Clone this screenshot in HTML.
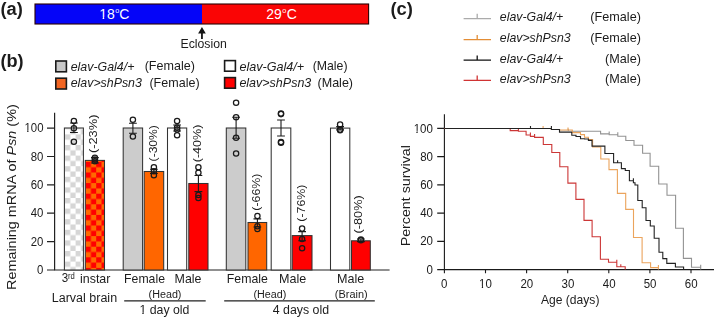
<!DOCTYPE html>
<html><head><meta charset="utf-8">
<style>
html,body{margin:0;padding:0;background:#fff;width:715px;height:317px;overflow:hidden}
svg{display:block;filter:blur(0.3px);font-family:"Liberation Sans",sans-serif}
text{fill:#1c1c1c}
.it{font-style:italic}
.b{font-weight:bold}
</style></head><body>
<svg width="715" height="317" viewBox="0 0 715 317">
<defs>
<pattern id="ckw" x="65.0" y="134.4" width="10.6" height="10.6" patternUnits="userSpaceOnUse">
<rect width="10.6" height="10.6" fill="#fff"/><rect width="5.3" height="5.3" fill="#d6d6d6"/><rect x="5.3" y="5.3" width="5.3" height="5.3" fill="#d6d6d6"/>
</pattern>
<pattern id="ckr" x="85.6" y="161.9" width="10.6" height="10.6" patternUnits="userSpaceOnUse">
<rect width="10.6" height="10.6" fill="#ff6a00"/><rect width="5.3" height="5.3" fill="#ff0000"/><rect x="5.3" y="5.3" width="5.3" height="5.3" fill="#ff0000"/>
</pattern>
<clipPath id="one" clipPathUnits="objectBoundingBox"><path d="M-0.2 -0.2 H1.2 V0.72 H0.625 V1.2 H0.425 V0.72 H-0.2 Z"/></clipPath>
</defs>
<rect x="35" y="4.0" width="167" height="20.0" fill="#0505f8"/>
<rect x="202" y="4.0" width="166.6" height="20.0" fill="#fa0505"/>
<rect x="35" y="4.0" width="333.6" height="20.0" fill="none" stroke="#2a0000" stroke-width="1.1"/>
<g font-size="14" style="fill:#fff">
<text transform="translate(99.3,18.8) scale(1,1.03)" style="fill:#fff" clip-path="url(#one)">1</text><text transform="translate(107.1,18.8) scale(1,1.03)" style="fill:#fff">8</text><text x="115.2" y="13.4" font-size="7.3" style="fill:#fff">o</text><text transform="translate(119.3,18.8) scale(1,1.03)" style="fill:#fff">C</text>
<text transform="translate(266.3,18.8) scale(1,1.03)" style="fill:#fff">29</text><text x="282.3" y="13.4" font-size="7.3" style="fill:#fff">o</text><text transform="translate(286.8,18.8) scale(1,1.03)" style="fill:#fff">C</text>
</g>
<path d="M201.95 26.9 L205.8 33.5 L202.85 33.5 L202.85 39 L201.05 39 L201.05 33.5 L198.1 33.5 Z" fill="#151515"/>
<rect x="55.8" y="61" width="10.6" height="10.8" fill="#c8c8c8" stroke="#1a1a1a" stroke-width="1.6"/>
<rect x="55.8" y="78.2" width="10.6" height="10.8" fill="#f26522" stroke="#1a1a1a" stroke-width="1.6"/>
<rect x="224.6" y="60.6" width="10.8" height="10.6" fill="#fff" stroke="#1a1a1a" stroke-width="1.6"/>
<rect x="224.6" y="77.6" width="10.8" height="10.6" fill="#ff0000" stroke="#1a1a1a" stroke-width="1.6"/>
<g stroke="#222" stroke-width="1.2" fill="none">
<path d="M54.6 112.7 V270 H389.6"/>
<path d="M47 128.1 H54.6 M47 156.5 H54.6 M47 184.9 H54.6 M47 213.2 H54.6 M47 241.6 H54.6 M47 270.0 H54.6"/>
</g>
<g stroke="#333" stroke-width="1.05">
<rect x="64.4" y="128" width="19.0" height="142.0" fill="url(#ckw)"/>
<rect x="85.3" y="160.4" width="19.2" height="109.6" fill="url(#ckr)"/>
<rect x="123.2" y="128" width="19.4" height="142.0" fill="#cccccc"/>
<rect x="144.2" y="171.5" width="19.5" height="98.5" fill="#ff6600"/>
<rect x="167.5" y="128" width="19.2" height="142.0" fill="#ffffff"/>
<rect x="188.8" y="183.5" width="19.2" height="86.5" fill="#ff0000"/>
<rect x="226.3" y="128" width="19.5" height="142.0" fill="#cccccc"/>
<rect x="248.0" y="222.5" width="18.7" height="47.5" fill="#ff6600"/>
<rect x="271.2" y="128" width="19.6" height="142.0" fill="#ffffff"/>
<rect x="292.2" y="235.6" width="19.8" height="34.4" fill="#ff0000"/>
<rect x="330.5" y="128.1" width="19.3" height="141.9" fill="#ffffff"/>
<rect x="351.5" y="240.8" width="18.8" height="29.2" fill="#ff0000"/>
</g>
<g stroke="#1a1a1a" stroke-width="1.1" fill="none">
<path d="M73.9 123.0 V132.5 M70.0 123.0 H77.8 M70.0 132.5 H77.8"/>
<circle cx="73.9" cy="121.0" r="2.65" stroke-width="1.25"/>
<circle cx="73.9" cy="128.2" r="2.65" stroke-width="1.25"/>
<circle cx="73.9" cy="141.7" r="2.65" stroke-width="1.25"/>
<path d="M94.9 157.6 V163.0 M91.0 157.6 H98.8 M91.0 163.0 H98.8"/>
<circle cx="94.9" cy="157.8" r="2.65" stroke-width="1.25"/>
<circle cx="94.9" cy="159.5" r="2.65" stroke-width="1.25"/>
<circle cx="94.9" cy="161.2" r="2.65" stroke-width="1.25"/>
<path d="M132.9 123.2 V133.2 M129.0 123.2 H136.8 M129.0 133.2 H136.8"/>
<circle cx="132.9" cy="119.7" r="2.65" stroke-width="1.25"/>
<circle cx="132.9" cy="136.5" r="2.65" stroke-width="1.25"/>
<path d="M153.9 169.3 V173.5 M150.0 169.3 H157.8 M150.0 173.5 H157.8"/>
<circle cx="153.9" cy="167.2" r="2.65" stroke-width="1.25"/>
<circle cx="153.9" cy="171.3" r="2.65" stroke-width="1.25"/>
<circle cx="153.9" cy="175.2" r="2.65" stroke-width="1.25"/>
<path d="M177.1 125 V131 M173.2 125 H181.0 M173.2 131 H181.0"/>
<circle cx="177.1" cy="121" r="2.65" stroke-width="1.25"/>
<circle cx="177.1" cy="127.6" r="2.65" stroke-width="1.25"/>
<circle cx="177.1" cy="129.6" r="2.65" stroke-width="1.25"/>
<circle cx="177.1" cy="135.2" r="2.65" stroke-width="1.25"/>
<path d="M198.4 175.5 V191.6 M194.5 175.5 H202.3 M194.5 191.6 H202.3"/>
<circle cx="198.4" cy="167.3" r="2.65" stroke-width="1.25"/>
<circle cx="198.4" cy="172.7" r="2.65" stroke-width="1.25"/>
<circle cx="198.4" cy="195" r="2.65" stroke-width="1.25"/>
<circle cx="198.4" cy="198" r="2.65" stroke-width="1.25"/>
<path d="M236.1 117.2 V138.3 M232.2 117.2 H240.0 M232.2 138.3 H240.0"/>
<circle cx="236.1" cy="102.7" r="2.65" stroke-width="1.25"/>
<circle cx="236.1" cy="117.2" r="2.65" stroke-width="1.25"/>
<circle cx="236.1" cy="137.7" r="2.65" stroke-width="1.25"/>
<circle cx="236.1" cy="153.4" r="2.65" stroke-width="1.25"/>
<path d="M257.4 218.9 V227 M253.5 218.9 H261.2 M253.5 227 H261.2"/>
<circle cx="257.4" cy="216" r="2.65" stroke-width="1.25"/>
<circle cx="257.4" cy="226.3" r="2.65" stroke-width="1.25"/>
<circle cx="257.4" cy="229" r="2.65" stroke-width="1.25"/>
<path d="M281.0 120 V136 M277.1 120 H284.9 M277.1 136 H284.9"/>
<circle cx="281.0" cy="113.4" r="2.65" stroke-width="1.25"/>
<circle cx="281.0" cy="114.1" r="2.65" stroke-width="1.25"/>
<circle cx="281.0" cy="142.0" r="2.65" stroke-width="1.25"/>
<circle cx="281.0" cy="142.7" r="2.65" stroke-width="1.25"/>
<path d="M302.1 231.6 V240.8 M298.2 231.6 H306.0 M298.2 240.8 H306.0"/>
<circle cx="302.1" cy="228.6" r="2.65" stroke-width="1.25"/>
<circle cx="302.1" cy="238.9" r="2.65" stroke-width="1.25"/>
<circle cx="302.1" cy="248.3" r="2.65" stroke-width="1.25"/>
<path d="M340.1 126.6 V129.9 M336.2 126.6 H344.0 M336.2 129.9 H344.0"/>
<circle cx="340.1" cy="124.5" r="2.65" stroke-width="1.25"/>
<circle cx="340.1" cy="129.6" r="2.65" stroke-width="1.25"/>
<circle cx="340.1" cy="130.2" r="2.65" stroke-width="1.25"/>
<path d="M360.9 239 V241.6 M357.0 239 H364.8 M357.0 241.6 H364.8"/>
<circle cx="360.9" cy="239.4" r="2.65" stroke-width="1.25"/>
<circle cx="360.9" cy="240.2" r="2.65" stroke-width="1.25"/>
</g>
<path d="M124.2 300.8 H205.7 M224.2 300.8 H374.8" stroke="#222" stroke-width="1.2"/>
<g fill="none" stroke-width="1.3">
<path d="M463.6 18.6 H491 M477.2 18.6 V13.8" stroke="#ababab"/>
<path d="M463.6 39.7 H491 M477.2 39.7 V34.9" stroke="#e38d35"/>
<path d="M463.6 60.2 H491 M477.2 60.2 V55.4" stroke="#111111"/>
<path d="M463.6 80.4 H491 M477.2 80.4 V75.6" stroke="#d03333"/>
</g>
<g stroke="#1a1a1a" stroke-width="1.1" fill="none">
<path d="M444.4 114.2 V269.6 H714"/>
<path d="M437.2 269.6 H444.4 M437.2 241.4 H444.4 M437.2 213.1 H444.4 M437.2 184.9 H444.4 M437.2 156.6 H444.4 M437.2 128.4 H444.4 M444.4 269.6 V273.3 M485.5 269.6 V273.3 M526.6 269.6 V273.3 M567.7 269.6 V273.3 M608.8 269.6 V273.3 M649.9 269.6 V273.3 M691.0 269.6 V273.3"/>
</g>
<g fill="none" stroke-width="1.1">
<path d="M444.4 128.5 H551.4 V129.5 H559.5 V131.2 H600.6 V133.9 H609.2 V134.8 H617.8 V136.3 H625.8 V140.5 H634.0 V145.3 H642.6 V153.2 H650.1 V166.2 H658.7 V184.0 H667.0 V195.3 H675.6 V228.2 H683.4 V258.4 H691.5 V267.3 H700.7 V269.6 M568.3 131.2 V128.7 M609.2 133.9 V131.4 M617.8 134.8 V132.3 M700.7 267.3 V264.8" stroke="#939393"/>
<path d="M444.4 128.5 H551.4 V129.5 H559.5 V130.0 H572.3 V132.6 H580.5 V134.6 H584.5 V137.2 H588.4 V139.5 H592.6 V147.0 H600.8 V159.0 H609.0 V169.6 H617.4 V193.4 H625.7 V209.4 H633.5 V237.5 H642.1 V262.7 H650.6 V267.6 H658.4 V269.6 M543.1 128.5 V126.0 M568.0 130.0 V127.5 M658.4 267.6 V265.1" stroke="#eba45c"/>
<path d="M444.4 128.5 H510.2 V130.6 H518.4 V131.3 H526.1 V135.0 H530.4 V136.4 H534.6 V137.4 H543.3 V144.5 H551.8 V152.5 H559.8 V166.7 H567.9 V183.1 H575.9 V199.4 H584.0 V220.4 H592.1 V236.8 H600.4 V259.3 H608.5 V262.3 H616.8 V266.7 H625.2 V269.6 M518.4 130.6 V128.1 M530.4 135.0 V132.5 M534.6 136.4 V133.9 M616.8 262.3 V259.8 M620.8 266.7 V264.2" stroke="#cc3636"/>
<path d="M444.4 128.5 H551.4 V129.5 H559.5 V132.2 H571.8 V135.3 H576.0 V136.5 H580.5 V138.7 H584.5 V139.0 H588.4 V140.4 H592.0 V146.1 H604.9 V153.5 H613.6 V162.8 H621.4 V168.6 H625.3 V170.5 H629.4 V180.8 H633.4 V182.7 H635.0 V185.0 H637.8 V200.5 H642.2 V207.8 H646.0 V220.5 H650.3 V226.0 H654.2 V238.3 H659.0 V252.3 H662.8 V258.6 H666.8 V263.4 H675.4 V267.0 H683.6 V269.6 M530.5 128.5 V126.0 M551.4 128.5 V126.0 M617.6 162.8 V160.3 M633.4 180.8 V178.3" stroke="#222222"/>
</g>
<text transform="translate(180.45,48.30) scale(0.9967,1.0)" font-size="12.35">Eclosion</text>
<text transform="translate(0.45,14.80) scale(1.0462,1.05)" font-size="17.5" class="b">(a)</text>
<text transform="translate(0.46,67.40) scale(1.0390,1.05)" font-size="17.5" class="b">(b)</text>
<text transform="translate(390.45,14.90) scale(1.0513,1.05)" font-size="17.5" class="b">(c)</text>
<text transform="translate(70.70,70.50) scale(0.9968,1.04)" font-size="12.45"><tspan class="it">elav-Gal4/+</tspan></text>
<text transform="translate(144.64,70.30) scale(1.0093,1.04)" font-size="12.45">(Female)</text>
<text transform="translate(70.70,87.10) scale(0.9944,1.04)" font-size="12.45"><tspan class="it">elav&gt;shPsn3</tspan></text>
<text transform="translate(149.44,87.20) scale(1.0093,1.04)" font-size="12.45">(Female)</text>
<text transform="translate(239.39,70.50) scale(1.0143,1.04)" font-size="12.45"><tspan class="it">elav-Gal4/+</tspan></text>
<text transform="translate(312.66,70.30) scale(0.9896,1.04)" font-size="12.45">(Male)</text>
<text transform="translate(239.40,87.10) scale(1.0042,1.04)" font-size="12.45"><tspan class="it">elav&gt;shPsn3</tspan></text>
<text transform="translate(317.54,87.20) scale(1.0074,1.04)" font-size="12.45">(Male)</text>
<text transform="translate(24.50,132.15) scale(1.0000,1.04)" font-size="11.4" clip-path="url(#one)">1</text>
<text transform="translate(24.50,132.15) scale(1.0000,1.04)" x="6.338" font-size="11.4">00</text>
<text transform="translate(30.75,160.53) scale(1.0000,1.04)" font-size="11.4">80</text>
<text transform="translate(30.75,188.91) scale(1.0000,1.04)" font-size="11.4">60</text>
<text transform="translate(30.75,217.29) scale(1.0000,1.04)" font-size="11.4">40</text>
<text transform="translate(30.75,245.67) scale(1.0000,1.04)" font-size="11.4">20</text>
<text transform="translate(37.00,274.05) scale(1.0000,1.04)" font-size="11.4">0</text>
<text transform="translate(61.80,282.40) scale(1.0000,1.05)" font-size="11.6">3</text>
<text transform="translate(67.90,278.60) scale(1.0087,1.12)" font-size="7.6">rd</text>
<text transform="translate(80.05,282.70) scale(1.0017,1.04)" font-size="12.4">instar</text>
<text transform="translate(51.79,301.80) scale(1.0095,1.04)" font-size="12.4">Larval brain</text>
<text transform="translate(124.11,282.70) scale(0.9887,1.04)" font-size="12.4">Female</text>
<text transform="translate(174.60,282.70) scale(1.0020,1.04)" font-size="12.4">Male</text>
<text transform="translate(148.55,297.60) scale(0.9968,1.04)" font-size="10.8">(Head)</text>
<text transform="translate(139.41,313.50) scale(0.9938,1.04)" font-size="12.4" clip-path="url(#one)">1</text>
<text transform="translate(139.41,313.50) scale(0.9938,1.04)" x="6.894" font-size="12.4">&#160;day old</text>
<text transform="translate(226.81,282.70) scale(0.9937,1.04)" font-size="12.4">Female</text>
<text transform="translate(278.99,282.70) scale(1.0139,1.04)" font-size="12.4">Male</text>
<text transform="translate(253.45,297.60) scale(0.9968,1.04)" font-size="10.8">(Head)</text>
<text transform="translate(337.09,282.70) scale(1.0139,1.04)" font-size="12.4">Male</text>
<text transform="translate(334.84,297.60) scale(1.0129,1.04)" font-size="10.8">(Brain)</text>
<text transform="translate(272.75,313.50) scale(0.9982,1.04)" font-size="12.4">4 days old</text>
<text transform="translate(96.75,153.04) rotate(-90) scale(1.1152,1)" font-size="11.5">(-23%)</text>
<text transform="translate(157.00,161.39) rotate(-90) scale(1.0515,1)" font-size="11.5">(-30%)</text>
<text transform="translate(200.90,162.22) rotate(-90) scale(1.0909,1)" font-size="11.5">(-40%)</text>
<text transform="translate(259.75,210.71) rotate(-90) scale(1.0758,1)" font-size="11.5">(-66%)</text>
<text transform="translate(304.75,221.71) rotate(-90) scale(1.0758,1)" font-size="11.5">(-76%)</text>
<text transform="translate(362.40,233.43) rotate(-90) scale(1.1061,1)" font-size="11.5">(-80%)</text>
<text transform="translate(15.80,290.01) rotate(-90) scale(1.1089,1)" font-size="13">Remaining mRNA of <tspan class="it">Psn</tspan> (%)</text>
<text transform="translate(499.80,21.30) scale(0.9921,1.04)" font-size="12.45"><tspan class="it">elav-Gal4/+</tspan></text>
<text transform="translate(590.34,21.30) scale(1.0155,1.04)" font-size="12.45">(Female)</text>
<text transform="translate(499.81,42.00) scale(0.9887,1.04)" font-size="12.45"><tspan class="it">elav&gt;shPsn3</tspan></text>
<text transform="translate(590.34,42.00) scale(1.0155,1.04)" font-size="12.45">(Female)</text>
<text transform="translate(499.80,62.50) scale(0.9921,1.04)" font-size="12.45"><tspan class="it">elav-Gal4/+</tspan></text>
<text transform="translate(605.04,62.50) scale(1.0163,1.04)" font-size="12.45">(Male)</text>
<text transform="translate(499.81,82.80) scale(0.9887,1.04)" font-size="12.45"><tspan class="it">elav&gt;shPsn3</tspan></text>
<text transform="translate(605.04,82.80) scale(1.0163,1.04)" font-size="12.45">(Male)</text>
<text transform="translate(441.05,287.70) scale(1.0000,1.04)" font-size="11.5">0</text>
<text transform="translate(479.08,287.70) scale(1.0000,1.04)" font-size="11.5" clip-path="url(#one)">1</text>
<text transform="translate(479.08,287.70) scale(1.0000,1.04)" x="6.394" font-size="11.5">0</text>
<text transform="translate(520.43,287.70) scale(1.0000,1.04)" font-size="11.5">20</text>
<text transform="translate(561.53,287.70) scale(1.0000,1.04)" font-size="11.5">30</text>
<text transform="translate(602.75,287.70) scale(1.0000,1.04)" font-size="11.5">40</text>
<text transform="translate(643.72,287.70) scale(1.0000,1.04)" font-size="11.5">50</text>
<text transform="translate(684.82,287.70) scale(1.0000,1.04)" font-size="11.5">60</text>
<text transform="translate(426.40,273.70) scale(1.0000,1.04)" font-size="11.5">0</text>
<text transform="translate(420.15,245.46) scale(1.0000,1.04)" font-size="11.5">20</text>
<text transform="translate(420.15,217.22) scale(1.0000,1.04)" font-size="11.5">40</text>
<text transform="translate(420.15,188.98) scale(1.0000,1.04)" font-size="11.5">60</text>
<text transform="translate(420.15,160.74) scale(1.0000,1.04)" font-size="11.5">80</text>
<text transform="translate(413.65,132.50) scale(1.0000,1.04)" font-size="11.5" clip-path="url(#one)">1</text>
<text transform="translate(413.65,132.50) scale(1.0000,1.04)" x="6.394" font-size="11.5">00</text>
<text transform="translate(541.00,304.40) scale(0.9991,1.04)" font-size="12.1">Age (days)</text>
<text transform="translate(409.60,246.35) rotate(-90) scale(1.1490,1)" font-size="12.4">Percent survival</text>
</svg>
</body></html>
